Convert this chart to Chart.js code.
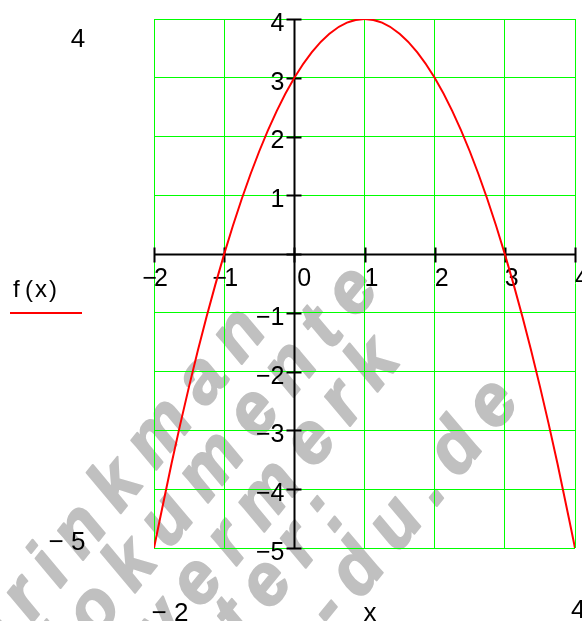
<!DOCTYPE html>
<html>
<head>
<meta charset="utf-8">
<title>f(x)</title>
<script src="https://cdn.jsdelivr.net/npm/chart.js@4/dist/chart.umd.min.js"></script>
<style>
  html, body { margin: 0; padding: 0; background: #fff; }
  canvas { display: block; }
</style>
</head>
<body>
<canvas id="plot" width="582" height="621"></canvas>
<script>
// Values (x step 0.25)
const xValues = [-2, -1.75, -1.5, -1.25, -1, -0.75, -0.5, -0.25, 0, 0.25, 0.5, 0.75, 1,
                 1.25, 1.5, 1.75, 2, 2.25, 2.5, 2.75, 3, 3.25, 3.5, 3.75, 4];
const fValues = [-5, -3.5625, -2.25, -1.0625, 0, 0.9375, 1.75, 2.4375, 3, 3.4375, 3.75, 3.9375, 4,
                 3.9375, 3.75, 3.4375, 3, 2.4375, 1.75, 0.9375, 0, -1.0625, -2.25, -3.5625, -5];

// Tick labels
const xTicks = [-2, -1, 0, 1, 2, 3, 4];
const yTicks = [4, 3, 2, 1, -1, -2, -3, -4, -5];

// Watermark lines: t = centre of last letter along the line, p = baseline across
const watermark = [
  { text: 'brinkman', t: -110, p: 417 },
  { text: 'dokumente', t: -5, p: 478 },
  { text: 'Schutzvermerk', t: -48, p: 540 },
  { text: 'Verwerter:', t: -194, p: 595 },
  { text: 'mathe-du.de', t: -4, p: 658 }
];

const FONT = '"Liberation Sans", Arial, sans-serif';
const MINUS = '\u2212';

const mathcadLook = {
  id: 'mathcadLook',
  beforeDraw(chart) {
    const ctx = chart.ctx;
    ctx.save();
    ctx.fillStyle = '#c0c0c0';
    ctx.strokeStyle = '#c0c0c0';
    ctx.lineWidth = 2;
    ctx.lineJoin = 'round';
    ctx.font = 'italic bold 72px ' + FONT;
    ctx.textAlign = 'left';
    ctx.textBaseline = 'alphabetic';
    ctx.rotate(-51 * Math.PI / 180);
    const gap = 16;
    watermark.forEach(w => {
      const chars = w.text.split('');
      let cursor = w.t + ctx.measureText(chars[chars.length - 1]).width / 2;
      for (let i = chars.length - 1; i >= 0; i--) {
        const cw = ctx.measureText(chars[i]).width;
        cursor -= cw;
        ctx.fillText(chars[i], cursor, w.p);
        ctx.strokeText(chars[i], cursor, w.p);
        cursor -= gap;
      }
    });
    ctx.restore();
  },
  beforeDatasetsDraw(chart) {
    const ctx = chart.ctx;
    const xs = chart.scales.x, ys = chart.scales.y;
    const area = chart.chartArea;
    const x0 = Math.round(xs.getPixelForValue(0)) + 0.5;
    const y0 = Math.round(ys.getPixelForValue(0)) + 0.5;

    ctx.save();
    // axes through the origin
    ctx.strokeStyle = '#000';
    ctx.lineWidth = 2;
    ctx.beginPath();
    ctx.moveTo(area.left, y0);
    ctx.lineTo(area.right + 1, y0);
    ctx.moveTo(x0, area.top);
    ctx.lineTo(x0, area.bottom + 1);
    ctx.stroke();

    // tick marks crossing the axes
    ctx.beginPath();
    xTicks.forEach(v => {
      const px = Math.round(xs.getPixelForValue(v)) + 0.5;
      ctx.moveTo(px, y0 - 7);
      ctx.lineTo(px, y0 + 8);
    });
    yTicks.concat([0]).forEach(v => {
      const py = Math.round(ys.getPixelForValue(v)) + 0.5;
      ctx.moveTo(x0 - 8, py);
      ctx.lineTo(x0 + 7, py);
    });
    ctx.stroke();

    // tick labels
    ctx.fillStyle = '#000';
    ctx.font = '25px ' + FONT;
    ctx.textBaseline = 'middle';
    xTicks.forEach(v => {
      const px = xs.getPixelForValue(v);
      const ty = y0 + 25;
      ctx.textAlign = 'left';
      ctx.fillText(String(Math.abs(v)), px + (v === 0 ? 3 : 0), ty);
      if (v < 0) {
        ctx.textAlign = 'right';
        ctx.fillText(MINUS, px + 3, ty);
      }
    });
    ctx.textAlign = 'right';
    yTicks.forEach(v => {
      const py = ys.getPixelForValue(v);
      const label = (v < 0 ? MINUS : '') + Math.abs(v);
      ctx.fillText(label, x0 - 10, py + 5);
    });
    ctx.restore();
  },
  afterDraw(chart) {
    const ctx = chart.ctx;
    ctx.save();
    ctx.fillStyle = '#000';
    ctx.font = '26px ' + FONT;
    ctx.textBaseline = 'middle';
    ctx.textAlign = 'center';
    // plot range labels (Mathcad style)
    ctx.fillText('4', 78, 40);
    ctx.fillText(MINUS + ' 5', 67, 543);
    ctx.fillText(MINUS + ' 2', 170, 614);
    ctx.fillText('x', 370, 614);
    ctx.textAlign = 'left';
    ctx.fillText('4', 571, 611);
    // trace legend
    ctx.font = '24px ' + FONT;
    ctx.fillText('f', 13, 290);
    ctx.fillText('(', 25, 290);
    ctx.fillText('x', 35, 290);
    ctx.fillText(')', 49, 290);
    ctx.strokeStyle = '#ff0000';
    ctx.lineWidth = 2;
    ctx.beginPath();
    ctx.moveTo(10, 313);
    ctx.lineTo(82, 313);
    ctx.stroke();
    ctx.restore();
  }
};

new Chart(document.getElementById('plot').getContext('2d'), {
  type: 'line',
  data: {
    datasets: [{
      label: 'f(x)',
      data: xValues.map((x, i) => ({ x: x, y: fValues[i] })),
      borderColor: '#ff0000',
      borderWidth: 2,
      pointRadius: 0,
      fill: false,
      cubicInterpolationMode: 'monotone'
    }]
  },
  options: {
    responsive: false,
    animation: false,
    devicePixelRatio: 1,
    layout: { padding: { left: 154, top: 19, right: 7, bottom: 73 } },
    plugins: { legend: { display: false }, tooltip: { enabled: false } },
    scales: {
      x: {
        type: 'linear',
        min: -2,
        max: 4,
        ticks: { display: false, stepSize: 1 },
        grid: { color: '#00ff00', lineWidth: 1, drawTicks: false },
        border: { display: false }
      },
      y: {
        type: 'linear',
        min: -5,
        max: 4,
        ticks: { display: false, stepSize: 1 },
        grid: { color: '#00ff00', lineWidth: 1, drawTicks: false },
        border: { display: false }
      }
    }
  },
  plugins: [mathcadLook]
});
</script>
</body>
</html>
